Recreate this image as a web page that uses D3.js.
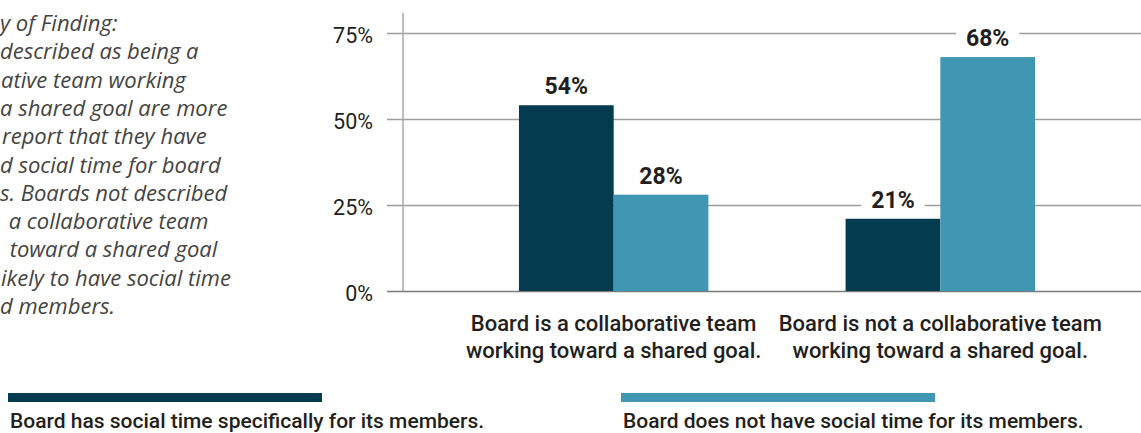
<!DOCTYPE html>
<html>
<head>
<meta charset="utf-8">
<script src="https://cdn.jsdelivr.net/npm/d3@7"></script>
<style>
body { margin: 0; background: #fff; }
svg { display: block; }
</style>
</head>
<body>
<svg></svg>
<script>
// data
var groups = ["collab", "notCollab"];
var groupLabels = [
    ["Board is a collaborative team", "working toward a shared goal."],
    ["Board is not a collaborative team", "working toward a shared goal."]
];
var seriesNames = [
    "Board has social time specifically for its members.",
    "Board does not have social time for its members."
];
var hasSocialTime = [54, 21];
var noSocialTime = [28, 68];
var yTicks = [0, 25, 50, 75];

// left note, cut off by the page edge in the original
var noteLines = [
    "y of Finding:",
    "described as being a",
    "ative team working",
    "a shared goal are more",
    "report that they have",
    "d social time for board",
    "s. Boards not described",
    " a collaborative team",
    " toward a shared goal",
    "ikely to have social time",
    "d members."
];
var noteShift = [0, 0, 1, 0, 2, 0, 0, 3, 4, 1, 0];

var colors = ["#043b4f", "#4097b4"];

var svgWidth = 1141, svgHeight = 433;
var svg = d3.select("svg")
    .attr("width", svgWidth)
    .attr("height", svgHeight);

var chartFont = "Roboto, 'Liberation Sans', sans-serif";

/////////// note text
svg.append("g").selectAll("text")
    .data(noteLines)
    .enter()
    .append("text")
    .attr("x", function(d, i){ return noteShift[i]; })
    .attr("y", function(d, i){ return 31 + i * 28.3; })
    .attr("font-family", "'Open Sans', Lato, sans-serif")
    .attr("font-style", "italic")
    .attr("font-size", 22)
    .attr("fill", "#444")
    .attr("xml:space", "preserve")
    .style("white-space", "pre")
    .text(function(d){ return d; });

/////////// scales
var y = d3.scaleLinear().domain([0, 75]).range([291, 33]);

var x0 = d3.scaleBand()
    .domain(groups)
    .range([403, 1151])
    .paddingInner(0.42)
    .paddingOuter(0.355);

var x1 = d3.scaleBand()
    .domain([0, 1])
    .range([0, x0.bandwidth()]);

/////////// grid + tick labels
var gridLeft = 387;
var yAxis = svg.append("g")
    .attr("transform", "translate(" + svgWidth + ",0)")
    .call(d3.axisLeft(y).tickValues(yTicks).tickSize(svgWidth - gridLeft).tickPadding(14)
        .tickFormat(function(d){ return d + "%"; }));
yAxis.select(".domain").remove();
yAxis.selectAll(".tick line")
    .attr("stroke", function(d){ return d === 0 ? "#7a7a7a" : "#9d9d9d"; })
    .attr("stroke-width", 1.5);
yAxis.selectAll(".tick text")
    .attr("font-family", chartFont)
    .attr("font-size", 21.5)
    .attr("fill", "#231f20")
    .attr("dy", "0.45em");

// vertical axis line
svg.append("line")
    .attr("x1", 403).attr("x2", 403)
    .attr("y1", 13).attr("y2", y(0))
    .attr("stroke", "#a8a8a8")
    .attr("stroke-width", 1.5);

/////////// bars
var rows = groups.map(function(g, i){
    return { group: g, values: [hasSocialTime[i], noSocialTime[i]] };
});

var groupG = svg.selectAll(".grp")
    .data(rows)
    .enter()
    .append("g")
    .attr("class", "grp")
    .attr("transform", function(d){ return "translate(" + x0(d.group) + ",0)"; });

groupG.selectAll("rect")
    .data(function(d){ return d.values; })
    .enter()
    .append("rect")
    .attr("x", function(d, i){ return x1(i); })
    .attr("y", function(d){ return y(d); })
    .attr("width", x1.bandwidth())
    .attr("height", function(d){ return y(0) - y(d); })
    .attr("fill", function(d, i){ return colors[i]; });

// value labels with white box so gridlines break behind them
var valueG = groupG.selectAll(".val")
    .data(function(d){ return d.values; })
    .enter()
    .append("g")
    .attr("class", "val");

valueG.append("rect").attr("fill", "#fff");

var valueText = valueG.append("text")
    .attr("x", function(d, i){ return x1(i) + x1.bandwidth() / 2; })
    .attr("y", function(d){ return y(d) - 11; })
    .attr("text-anchor", "middle")
    .attr("font-family", chartFont)
    .attr("font-weight", "bold")
    .attr("font-size", 23)
    .attr("fill", "#231f20")
    .text(function(d){ return d + "%"; });

valueText.each(function(){
    var b = this.getBBox();
    d3.select(this.previousSibling)
        .attr("x", b.x - 10)
        .attr("y", b.y)
        .attr("width", b.width + 20)
        .attr("height", b.height);
});

/////////// category labels
svg.append("g").selectAll("text")
    .data(groups)
    .enter()
    .append("text")
    .attr("x", function(d){ return x0(d) + x0.bandwidth() / 2; })
    .attr("y", 331)
    .attr("text-anchor", "middle")
    .attr("font-family", chartFont)
    .attr("font-weight", 500)
    .attr("font-size", 22)
    .attr("fill", "#231f20")
    .each(function(d, i){
        var t = d3.select(this);
        groupLabels[i].forEach(function(line, j){
            t.append("tspan")
                .attr("x", x0(d) + x0.bandwidth() / 2)
                .attr("dy", j === 0 ? 0 : 27)
                .text(line);
        });
    });

/////////// legend
var legendX = d3.scaleLinear().domain([0, 1]).range([8, 621]);

var legend = svg.selectAll(".legend")
    .data(seriesNames)
    .enter()
    .append("g")
    .attr("class", "legend")
    .attr("transform", function(d, i){ return "translate(" + legendX(i) + ",0)"; });

legend.append("rect")
    .attr("x", 0)
    .attr("y", 393)
    .attr("width", 314)
    .attr("height", 9)
    .attr("fill", function(d, i){ return colors[i]; });

legend.append("text")
    .attr("x", 2)
    .attr("y", 428)
    .attr("font-family", chartFont)
    .attr("font-weight", 500)
    .attr("font-size", 21)
    .attr("fill", "#231f20")
    .text(function(d){ return d; });
</script>
</body>
</html>
